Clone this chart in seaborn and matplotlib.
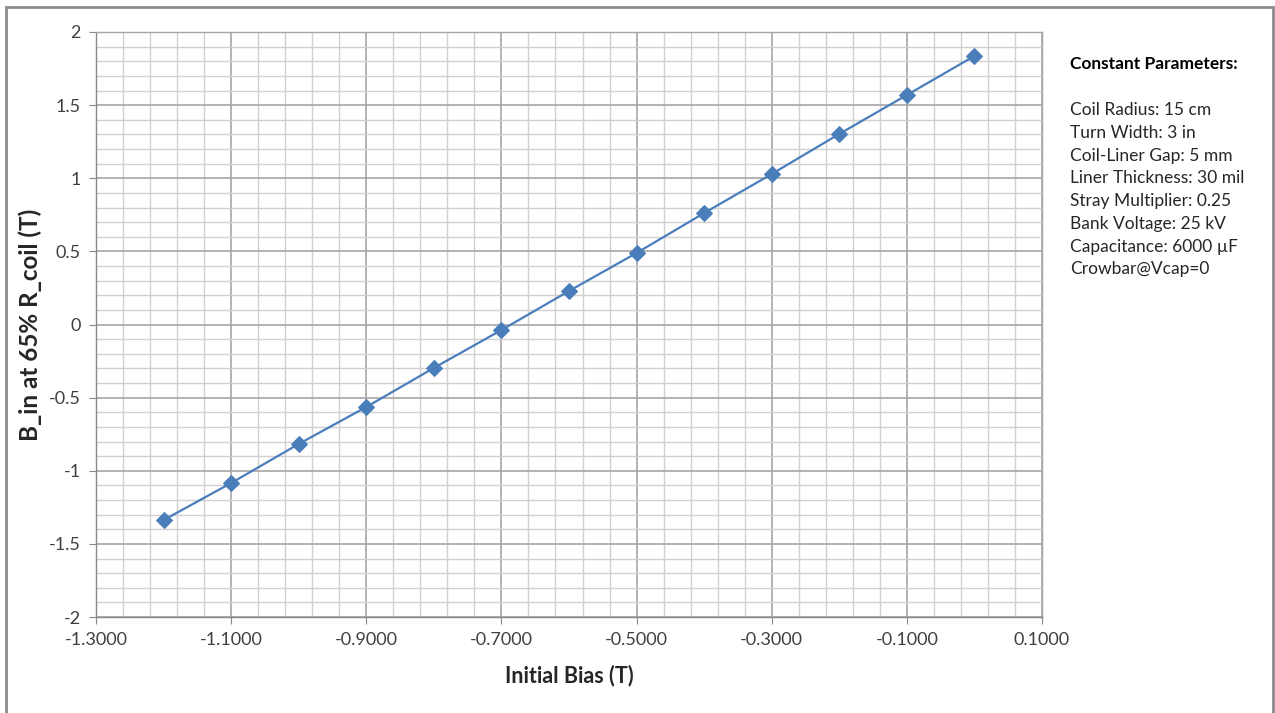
import numpy as np
import pandas as pd
import seaborn as sns
import matplotlib
matplotlib.use('Agg')
import matplotlib.pyplot as plt
from matplotlib.ticker import FixedLocator, FormatStrFormatter, FuncFormatter
from matplotlib.patches import Rectangle

bias = [-1.2, -1.1, -1.0, -0.9, -0.8, -0.7, -0.6, -0.5, -0.4, -0.3, -0.2, -0.1, 0.0]
b_in = [-1.337, -1.084, -0.817, -0.564, -0.297, -0.038, 0.229, 0.489,
        0.762, 1.029, 1.303, 1.569, 1.836]
params_title = 'Constant Parameters:'
params = ['Coil Radius: 15 cm', 'Turn Width: 3 in', 'Coil-Liner Gap: 5 mm',
          'Liner Thickness: 30 mil', 'Stray Multiplier: 0.25', 'Bank Voltage: 25 kV',
          'Capacitance: 6000 µF', 'Crowbar@Vcap=0']

df = pd.DataFrame({'bias': bias, 'b_in': b_in})

sns.set_style('white')
plt.rcParams['font.family'] = ['Lato', 'DejaVu Sans']

fig = plt.figure(figsize=(12.75, 7.13), dpi=100)
ax = fig.add_axes([96/1275, 1-617/713, (1042-96)/1275, (617-32)/713])

blue = '#4a7ebb'
sns.lineplot(data=df, x='bias', y='b_in', ax=ax, color=blue, linewidth=1.6,
             marker='D', markersize=8, markeredgecolor=blue, sort=False)

ax.set_xlim(-1.3, 0.1)
ax.set_ylim(-2, 2)
ax.xaxis.set_major_locator(FixedLocator(np.round(np.linspace(-1.3, 0.1, 8), 4)))
ax.xaxis.set_minor_locator(FixedLocator(np.round(np.linspace(-1.3, 0.1, 36), 4)))
ax.yaxis.set_major_locator(FixedLocator(np.linspace(-2, 2, 9)))
ax.yaxis.set_minor_locator(FixedLocator(np.round(np.linspace(-2, 2, 41), 4)))
ax.xaxis.set_major_formatter(FormatStrFormatter('%.4f'))
ax.yaxis.set_major_formatter(FuncFormatter(lambda v, p: f'{v:g}'))

ax.grid(which='major', color='#a6a6a6', linewidth=1.2)
ax.grid(which='minor', color='#d0d0d0', linewidth=1.0)
ax.set_axisbelow(True)
for s in ax.spines.values():
    s.set_color('#a6a6a6')
    s.set_linewidth(1.0)
ax.spines['left'].set_color('#888888')
ax.spines['bottom'].set_color('#888888')
ax.tick_params(axis='both', which='major', length=5, color='#888888', labelsize=13,
               labelcolor='#404040', pad=6, left=True, bottom=True)
ax.tick_params(which='minor', length=0)

ax.set_xlabel('Initial Bias (T)', fontsize=15.5, fontweight='bold', labelpad=12)
ax.set_ylabel('B_in at 65% R_coil (T)', fontsize=17.5, fontweight='bold', labelpad=5)

fig.text(1070/1275, 1-64/713, params_title, fontsize=12.5, fontweight='bold',
         va='center', ha='left', color='black')
fig.text(1070/1275, 1-102/713, '\n'.join(params), fontsize=12.5, va='top', ha='left',
         color='#262626', linespacing=1.52)

fig.patches.append(Rectangle((6/1275, -0.05), (1273-6)/1275, 1.05-7/713,
                             transform=fig.transFigure, fill=False,
                             edgecolor='#8c8c8c', linewidth=2))

fig.savefig('out.png', dpi=100)
